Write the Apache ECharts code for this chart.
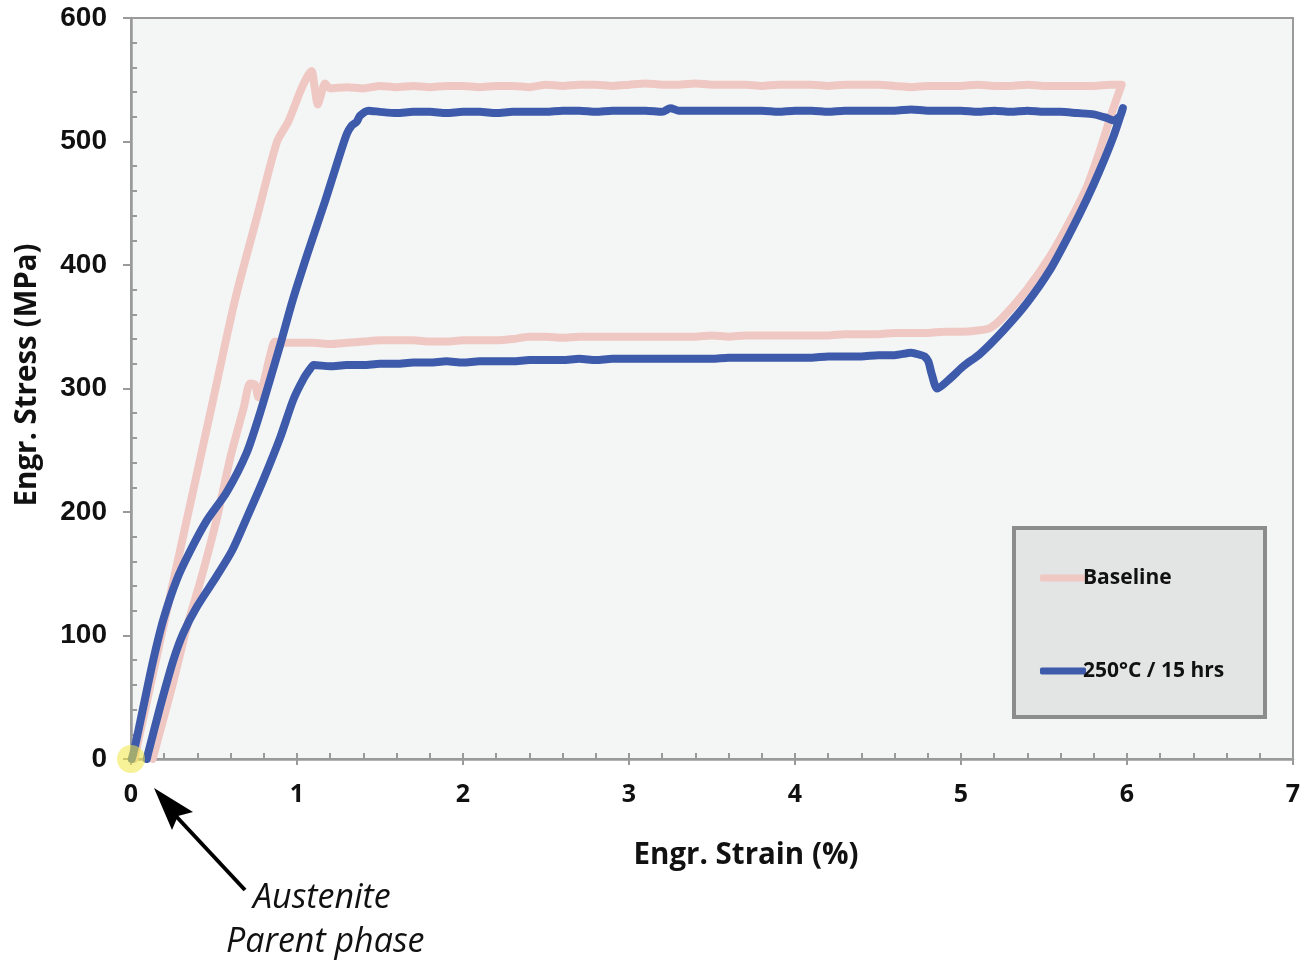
<!DOCTYPE html>
<html>
<head>
<meta charset="utf-8">
<script src="https://cdn.jsdelivr.net/npm/echarts@6/dist/echarts.min.js"></script>
<style>
html,body{margin:0;padding:0;background:#fff;}
#chart{width:1305px;height:962px;}
</style>
</head>
<body>
<div id="chart"></div>
<script>
// ---- Data (strain %, stress MPa) ----
const xTicks = [0, 1, 2, 3, 4, 5, 6, 7];
const yTicks = [0, 100, 200, 300, 400, 500, 600];
const seriesNames = ['Baseline', '250°C / 15 hrs'];

// Baseline
const baseLoading = [[0.02,0],[0.17,92],[0.33,190],[0.49,288],[0.627,372],[0.765,442],[0.88,500],[0.947,516],[1.018,540],[1.06,552],[1.088,557],[1.105,545],[1.125,530],[1.145,538],[1.169,547],[1.20,543]];
const baseUpper = [[1.3,544],[1.4,543],[1.5,545],[1.6,544],[1.7,545],[1.8,544],[1.9,545],[2.0,545],[2.1,544],[2.2,545],[2.3,545],[2.4,544],[2.5,546],[2.6,545],[2.7,546],[2.8,546],[2.9,545],[3.0,546],[3.1,547],[3.2,546],[3.3,546],[3.4,547],[3.5,546],[3.6,546],[3.7,546],[3.8,545],[3.9,546],[4.0,546],[4.1,546],[4.2,545],[4.3,546],[4.4,546],[4.5,546],[4.6,545],[4.7,544],[4.8,545],[4.9,545],[5.0,545],[5.1,546],[5.2,545],[5.3,545],[5.4,546],[5.5,545],[5.6,545],[5.7,545],[5.8,545],[5.9,546],[5.968,546]];
const baseUnloading = [[5.908,523],[5.837,493],[5.757,463],[5.657,436],[5.536,407],[5.396,380],[5.255,358],[5.175,349]];
const baseLower = [[5.1,347],[5.0,346],[4.9,346],[4.8,345],[4.7,345],[4.6,345],[4.5,344],[4.4,344],[4.3,344],[4.2,343],[4.1,343],[4.0,343],[3.9,343],[3.8,343],[3.7,343],[3.6,342],[3.5,343],[3.4,342],[3.3,342],[3.2,342],[3.1,342],[3.0,342],[2.9,342],[2.8,342],[2.7,342],[2.6,341],[2.5,342],[2.4,342],[2.3,340],[2.2,339],[2.1,339],[2.0,339],[1.9,338],[1.8,338],[1.7,339],[1.6,339],[1.5,339],[1.4,338],[1.3,337],[1.2,336],[1.1,337],[1.0,337],[0.9,337],[0.867,338]];
const baseReturn = [[0.837,326],[0.797,304],[0.767,293],[0.747,303],[0.717,304],[0.68,285],[0.60,245],[0.516,194],[0.42,145],[0.335,106],[0.25,60],[0.13,0]];

// 250°C / 15 hrs
const heatLoading = [[0.005,0],[0.024,10],[0.074,42],[0.134,80],[0.195,113],[0.275,145],[0.355,168],[0.456,193],[0.576,216],[0.697,248],[0.777,280],[0.837,307],[0.898,335],[0.975,372],[1.07,412],[1.17,452],[1.25,486],[1.30,506],[1.33,513],[1.36,516],[1.38,521],[1.43,525]];
const heatUpper = [[1.5,524],[1.6,523],[1.7,524],[1.8,524],[1.9,523],[2.0,524],[2.1,524],[2.2,523],[2.3,524],[2.4,524],[2.5,524],[2.6,525],[2.7,525],[2.8,524],[2.9,525],[3.0,525],[3.1,525],[3.2,524],[3.25,527],[3.3,525],[3.4,525],[3.5,525],[3.6,525],[3.7,525],[3.8,525],[3.9,524],[4.0,525],[4.1,525],[4.2,524],[4.3,525],[4.4,525],[4.5,525],[4.6,525],[4.7,526],[4.8,525],[4.9,525],[5.0,525],[5.1,524],[5.2,525],[5.3,524],[5.4,525],[5.5,524],[5.6,524],[5.7,523],[5.8,522],[5.88,519],[5.92,517],[5.96,521],[5.975,527]];
const heatUnloading = [[5.918,504],[5.837,477],[5.757,453],[5.657,426],[5.536,396],[5.396,369],[5.255,347],[5.114,328],[5.014,318],[4.934,308],[4.857,300],[4.823,312],[4.803,322],[4.78,326],[4.76,327],[4.70,329]];
const heatLower = [[4.6,327],[4.5,327],[4.4,326],[4.3,326],[4.2,326],[4.1,325],[4.0,325],[3.9,325],[3.8,325],[3.7,325],[3.6,325],[3.5,324],[3.4,324],[3.3,324],[3.2,324],[3.1,324],[3.0,324],[2.9,324],[2.8,323],[2.7,324],[2.6,323],[2.5,323],[2.4,323],[2.3,322],[2.2,322],[2.1,322],[2.0,321],[1.9,322],[1.8,321],[1.7,321],[1.6,320],[1.5,320],[1.4,319],[1.3,319],[1.2,318],[1.1,319],[1.08,316]];
const heatReturn = [[1.04,308],[0.978,291],[0.898,260],[0.797,226],[0.70,196],[0.61,169],[0.516,148],[0.396,123],[0.315,102],[0.255,80],[0.175,42],[0.104,5],[0.095,0]];

const parentPhasePoint = [[0, 0]];

// ---- Chart ----
const baselineData = [].concat(baseLoading, baseUpper, baseUnloading, baseLower, baseReturn);
const heatData = [].concat(heatLoading, heatUpper, heatUnloading, heatLower, heatReturn);

const chart = echarts.init(document.getElementById('chart'), null, {renderer: 'canvas'});
const axisGray = '#9a9a9a';

const option = {
  animation: false,
  backgroundColor: '#ffffff',
  grid: {
    left: 131, top: 18, right: 12, bottom: 203,
    show: true, backgroundColor: '#f4f6f5', borderColor: axisGray, borderWidth: 2
  },
  xAxis: [
    {
      type: 'value', min: xTicks[0], max: xTicks[xTicks.length - 1], interval: 1,
      position: 'bottom',
      axisLine: {show: true, lineStyle: {color: axisGray, width: 2.5}},
      axisTick: {show: true, inside: true, length: 6, lineStyle: {color: axisGray, width: 2}},
      minorTick: {show: true, splitNumber: 5, length: 6, lineStyle: {color: axisGray, width: 2}},
      splitLine: {show: false},
      axisLabel: {margin: 23, fontFamily: 'Open Sans', fontWeight: 'bold', fontSize: 25, color: '#111'},
      name: 'Engr. Strain (%)', nameLocation: 'middle', nameGap: 82,
      nameTextStyle: {fontFamily: 'Open Sans', fontWeight: 'bold', fontSize: 29.5, color: '#111', padding: [0, 0, 0, 68]}
    },
    {
      type: 'value', min: xTicks[0], max: xTicks[xTicks.length - 1], interval: 1,
      position: 'bottom',
      axisLine: {show: false},
      axisTick: {show: true, inside: false, length: 6, lineStyle: {color: axisGray, width: 2}},
      axisLabel: {show: false}, splitLine: {show: false}
    }
  ],
  yAxis: [
    {
      type: 'value', min: yTicks[0], max: yTicks[yTicks.length - 1], interval: 100,
      position: 'left',
      axisLine: {show: true, lineStyle: {color: axisGray, width: 2.5}},
      axisTick: {show: true, inside: false, length: 8, lineStyle: {color: axisGray, width: 2}},
      splitLine: {show: false},
      axisLabel: {margin: 24, fontFamily: 'Liberation Sans', fontWeight: 'bold', fontSize: 28, color: '#111'},
      name: 'Engr. Stress (MPa)', nameLocation: 'middle', nameGap: 88,
      nameTextStyle: {fontFamily: 'Open Sans', fontWeight: 'bold', fontSize: 29.5, color: '#111', padding: [0, 0, 0, 27]}
    },
    {
      type: 'value', min: yTicks[0], max: yTicks[yTicks.length - 1], interval: 100,
      position: 'left',
      axisLine: {show: false},
      axisTick: {show: true, inside: true, length: 6, lineStyle: {color: 'rgba(0,0,0,0)', width: 0}},
      minorTick: {show: true, splitNumber: 5, length: 6, lineStyle: {color: axisGray, width: 2}},
      axisLabel: {show: false}, splitLine: {show: false}
    }
  ],
  legend: {
    data: seriesNames,
    orient: 'vertical',
    left: 1035, top: 554,
    itemWidth: 46, itemHeight: 7, itemGap: 55,
    icon: 'roundRect',
    z: 20,
    textStyle: {fontFamily: 'Open Sans', fontWeight: 'bold', fontSize: 21, color: '#111', lineHeight: 24, padding: [14, 0, 0, -8]},
    selectedMode: false
  },
  series: [
    {
      name: seriesNames[0], type: 'line', data: baselineData,
      xAxisIndex: 0, yAxisIndex: 0,
      showSymbol: false, symbol: 'none', smooth: 0.25,
      lineStyle: {color: '#efc8c4', width: 8, cap: 'round', join: 'round'},
      itemStyle: {color: '#efc8c4'}, z: 2
    },
    {
      name: seriesNames[1], type: 'line', data: heatData,
      xAxisIndex: 0, yAxisIndex: 0,
      showSymbol: false, symbol: 'none', smooth: 0.25,
      lineStyle: {color: '#3d5aab', width: 8, cap: 'round', join: 'round'},
      itemStyle: {color: '#3d5aab'}, z: 3
    },
    {
      name: 'Austenite parent phase', type: 'scatter', data: parentPhasePoint,
      xAxisIndex: 0, yAxisIndex: 0,
      symbolSize: 28, clip: false,
      itemStyle: {color: 'rgba(240,232,70,0.7)'}, z: 4, silent: true
    }
  ],
  graphic: [
    {
      type: 'rect', left: 1012, top: 526, z: 5,
      shape: {width: 251, height: 189},
      style: {fill: '#e3e4e4', stroke: '#8c8c8c', lineWidth: 4}
    },
    {
      type: 'line', z: 10,
      shape: {x1: 245, y1: 890, x2: 174, y2: 814},
      style: {stroke: '#000', lineWidth: 4}
    },
    {
      type: 'polygon', z: 10,
      shape: {points: [[154, 788], [193, 812], [178, 816], [172, 830]]},
      style: {fill: '#000'}
    },
    {
      type: 'text', left: 253, top: 881, z: 10,
      style: {text: 'Austenite', fontFamily: 'Open Sans', fontStyle: 'italic', fontSize: 34, fill: '#111'}
    },
    {
      type: 'text', left: 226, top: 925, z: 10,
      style: {text: 'Parent phase', fontFamily: 'Open Sans', fontStyle: 'italic', fontSize: 34, fill: '#111'}
    }
  ]
};
chart.setOption(option);
</script>
</body>
</html>
